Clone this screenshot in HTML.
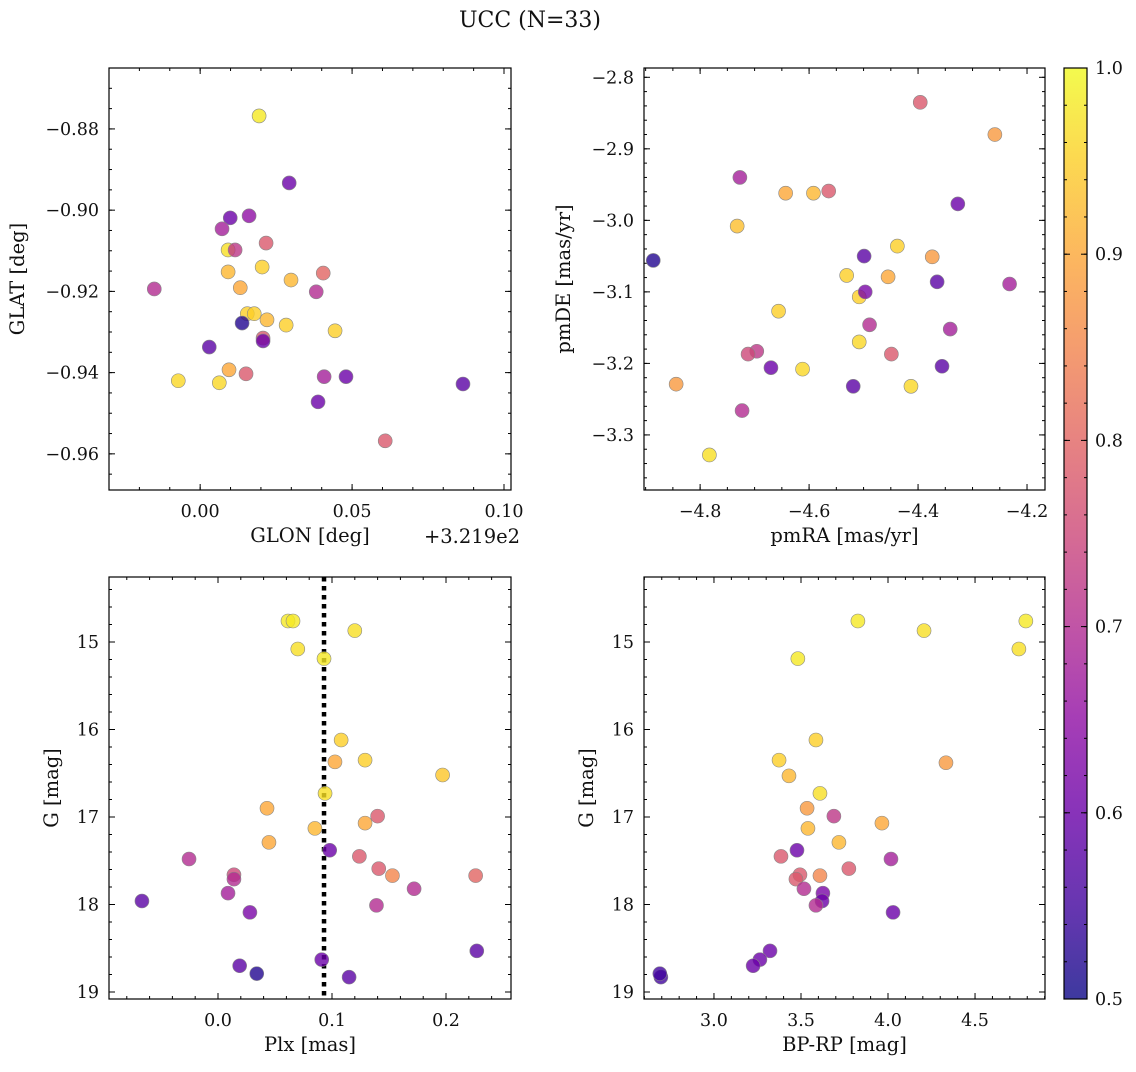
<!DOCTYPE html>
<html><head><meta charset="utf-8"><style>
body{margin:0;background:#fff;}
svg text{font-family:"DejaVu Serif","Liberation Serif",serif;fill:#111;}
</style></head><body>
<svg id="fig" width="1136" height="1067" viewBox="0 0 1136 1067" xmlns="http://www.w3.org/2000/svg">
<defs>
<linearGradient id="cbgrad" x1="0" y1="1" x2="0" y2="0">
<stop offset="0" stop-color="#0d0887"/><stop offset="0.1" stop-color="#41049d"/><stop offset="0.2" stop-color="#6a00a8"/><stop offset="0.3" stop-color="#8f0da4"/><stop offset="0.4" stop-color="#b12a90"/><stop offset="0.5" stop-color="#cc4778"/><stop offset="0.6" stop-color="#e16462"/><stop offset="0.7" stop-color="#f2844b"/><stop offset="0.8" stop-color="#fca636"/><stop offset="0.9" stop-color="#fcce25"/><stop offset="1" stop-color="#f0f921"/>
</linearGradient>
</defs>
<text x="530" y="27" font-size="22" text-anchor="middle">UCC (N=33)</text>
</svg>
<script>
// ---- data ----
const glon=[.0194,.0293,.0099,.0161,.0072,.0092,.0115,.0217,.0204,.0092,.0405,.0299,.0132,-.0151,.0382,.0155,.0178,.0220,.0138,.0283,.0444,.0207,.0207,.0030,.0095,.0151,.0408,.048,-.0072,.0063,.0865,.0388,.0609];
const glat=[-.8768,-.8933,-.9019,-.9014,-.9046,-.9098,-.9098,-.9081,-.914,-.9152,-.9155,-.9172,-.9191,-.9194,-.9201,-.9255,-.9255,-.927,-.9278,-.9283,-.9297,-.9315,-.9322,-.9337,-.9393,-.9403,-.941,-.941,-.942,-.9425,-.9428,-.9472,-.9568];
const probTL=[.98,.6,.6,.65,.68,.97,.72,.78,.95,.92,.8,.92,.9,.7,.7,.95,.95,.92,.52,.95,.95,.78,.6,.58,.9,.78,.68,.6,.96,.96,.58,.6,.78];
const pmra=[-4.396,-4.259,-4.727,-4.643,-4.592,-4.564,-4.327,-4.732,-4.438,-4.886,-4.499,-4.374,-4.531,-4.455,-4.232,-4.365,-4.508,-4.497,-4.656,-4.489,-4.341,-4.508,-4.696,-4.712,-4.449,-4.356,-4.670,-4.612,-4.844,-4.519,-4.413,-4.723,-4.783];
const pmde=[-2.835,-2.880,-2.940,-2.962,-2.962,-2.959,-2.977,-3.008,-3.036,-3.056,-3.050,-3.051,-3.077,-3.079,-3.089,-3.086,-3.107,-3.100,-3.127,-3.146,-3.152,-3.170,-3.183,-3.187,-3.187,-3.204,-3.206,-3.208,-3.229,-3.232,-3.232,-3.266,-3.328];
const probTR=[.78,.88,.68,.9,.92,.78,.6,.93,.95,.52,.58,.88,.95,.9,.68,.58,.95,.62,.95,.7,.68,.96,.72,.75,.78,.58,.6,.96,.88,.58,.96,.7,.97];
const plx=[.0614,.0658,.120,.070,.093,.108,.1026,.129,.197,.0939,.043,.140,.129,.085,.0447,.098,.124,-.0254,.141,.153,.014,.014,.226,.172,.0088,-.0667,.139,.028,.227,.091,.019,.034,.115];
const gBL=[14.76,14.76,14.87,15.08,15.19,16.12,16.37,16.35,16.52,16.73,16.90,16.99,17.07,17.13,17.29,17.38,17.45,17.48,17.59,17.67,17.66,17.71,17.67,17.82,17.87,17.96,18.01,18.09,18.53,18.63,18.70,18.79,18.83];
const probBL=[.98,.98,.97,.97,.98,.95,.9,.95,.94,.97,.9,.78,.9,.92,.9,.6,.78,.7,.78,.85,.75,.7,.8,.7,.68,.58,.7,.62,.58,.6,.58,.52,.58];
const bprp=[3.827,4.792,4.207,4.752,3.482,3.586,4.333,3.374,3.431,3.609,3.535,3.689,3.965,3.540,3.718,3.477,3.385,4.017,3.775,3.609,3.494,3.471,3.517,3.626,3.621,3.586,4.029,3.322,3.264,3.225,2.695,2.689];
const gBR=[14.76,14.76,14.87,15.08,15.19,16.12,16.38,16.35,16.53,16.73,16.90,16.99,17.07,17.13,17.29,17.38,17.45,17.48,17.59,17.67,17.66,17.71,17.82,17.87,17.96,18.01,18.09,18.53,18.63,18.70,18.83,18.79];
const probBR=[.98,.98,.97,.97,.98,.95,.88,.95,.92,.97,.88,.72,.9,.92,.92,.6,.78,.68,.78,.85,.78,.78,.7,.62,.6,.7,.6,.6,.6,.6,.55,.55];
const plxLine=[0.093];
const cbTicks=[0.5,0.6,0.7,0.8,0.9,1.0];

const NS="http://www.w3.org/2000/svg";
const svg=document.getElementById('fig');
function mk(tag,attrs,parent){const e=document.createElementNS(NS,tag);for(const k in attrs)e.setAttribute(k,attrs[k]);(parent||svg).appendChild(e);return e;}
const stops=[[0,[13,8,135]],[.1,[65,4,157]],[.2,[106,0,168]],[.3,[143,13,164]],[.4,[177,42,144]],[.5,[204,71,120]],[.6,[225,100,98]],[.7,[242,132,75]],[.8,[252,166,54]],[.9,[252,206,37]],[1,[240,249,33]]];
function plasma(v){let t=Math.max(0,Math.min(1,(v-0.5)/0.5));for(let i=1;i<stops.length;i++){if(t<=stops[i][0]){const a=stops[i-1],b=stops[i];const f=(t-a[0])/(b[0]-a[0]);const c=a[1].map((x,j)=>Math.round(x+(b[1][j]-x)*f));return `rgb(${c[0]},${c[1]},${c[2]})`;}}return 'rgb(240,249,33)';}
function fmt(v,d){let s=v.toFixed(d);if(Math.abs(v)<1e-9)s=(0).toFixed(d);return s.replace('-','\u2212');}
const FS=17.5;
const LS=19.5;

function panel(o){
  const {x0,x1,y0,y1,xmin,xmax,ymin,ymax,name}=o;
  const X=v=>x0+(v-xmin)/(xmax-xmin)*(x1-x0);
  const Y=v=>o.invert? y0+(v-ymin)/(ymax-ymin)*(y1-y0) : y1-(v-ymin)/(ymax-ymin)*(y1-y0);
  const g=mk('g',{});
  
  
  const tk=(vals,isX,len,minor)=>{vals.forEach(v=>{
    if(isX){const p=X(v);if(p<x0-0.5||p>x1+0.5)return;
      mk('line',{x1:p,x2:p,y1:y1,y2:y1-len,stroke:'#000','stroke-width':1},g);
      mk('line',{x1:p,x2:p,y1:y0,y2:y0+len,stroke:'#000','stroke-width':1},g);
      if(!minor){const t=mk('text',{x:p,y:y1+27,'font-size':FS,'text-anchor':'middle'},g);t.textContent=fmt(v,o.xd);}
    }else{const p=Y(v);if(p<y0-0.5||p>y1+0.5)return;
      mk('line',{x1:x0,x2:x0+len,y1:p,y2:p,stroke:'#000','stroke-width':1},g);
      mk('line',{x1:x1,x2:x1-len,y1:p,y2:p,stroke:'#000','stroke-width':1},g);
      if(!minor){const t=mk('text',{x:x0-10,y:p+6,'font-size':FS,'text-anchor':'end'},g);t.textContent=fmt(v,o.yd);}
    }});};
  const range=(a,b,s)=>{const r=[];for(let v=Math.ceil(a/s-1e-6)*s;v<=b+1e-9;v+=s)r.push(Math.round(v/s)*s);return r;};
  tk(range(xmin,xmax,o.xmin_step),true,3,true);
  tk(range(xmin,xmax,o.xmaj),true,6,false);
  tk(range(ymin,ymax,o.ymin_step),false,3,true);
  tk(range(ymin,ymax,o.ymaj),false,6,false);
  mk('rect',{x:x0,y:y0,width:x1-x0,height:y1-y0,fill:'none',stroke:'#000','stroke-width':1.2},g);
  if(o.vline){o.vline.forEach(v=>{const l=mk('line',{x1:X(v),x2:X(v),y1:y0,y2:y1,stroke:'#000','stroke-width':4.5,'stroke-dasharray':'4.5 4.5'},g);});}
  const xs=o.xs,ys=o.ys,ps=o.ps;
  const n=Math.min(xs.length,ys.length,ps.length);
  for(let i=0;i<n;i++){
    const c=mk('circle',{cx:X(xs[i]),cy:Y(ys[i]),r:7,fill:plasma(ps[i]),'fill-opacity':0.8,stroke:'#888','stroke-width':0.6},g);
    
    
  }
  const xl=mk('text',{x:(x0+x1)/2,y:y1+52,'font-size':LS,'text-anchor':'middle'},g);xl.textContent=o.xlabel;
  
  const yl=mk('text',{x:o.ylx,y:(y0+y1)/2,'font-size':LS,'text-anchor':'middle',transform:`rotate(-90 ${o.ylx} ${(y0+y1)/2})`},g);yl.textContent=o.ylabel;
  
  return g;
}
panel({name:'glon-glat-panel',x0:109,x1:511,y0:68,y1:490,xmin:-0.030,xmax:0.1023,ymin:-0.9689,ymax:-0.865,xmaj:0.05,xmin_step:0.01,ymaj:0.02,ymin_step:0.005,xd:2,yd:2,xs:glon,ys:glat,ps:probTL,xlabel:'GLON [deg]',ylabel:'GLAT [deg]',ylx:24});
const off=mk('text',{x:472,y:543,'font-size':LS,'text-anchor':'middle'});off.textContent='+3.219e2';

panel({name:'pm-panel',x0:644,x1:1045,y0:68,y1:490,xmin:-4.903,xmax:-4.167,ymin:-3.377,ymax:-2.787,xmaj:0.2,xmin_step:0.05,ymaj:0.1,ymin_step:0.02,xd:1,yd:1,xs:pmra,ys:pmde,ps:probTR,xlabel:'pmRA [mas/yr]',ylabel:'pmDE [mas/yr]',ylx:570});
panel({name:'plx-g-panel',invert:true,x0:109,x1:511,y0:577,y1:999,xmin:-0.0956,xmax:0.257,ymin:14.257,ymax:19.08,xmaj:0.1,xmin_step:0.02,ymaj:1,ymin_step:0.2,xd:1,yd:0,xs:plx,ys:gBL,ps:probBL,vline:plxLine,xlabel:'Plx [mas]',ylabel:'G [mag]',ylx:58});
panel({name:'cmd-panel',invert:true,x0:644,x1:1045,y0:577,y1:999,xmin:2.598,xmax:4.902,ymin:14.257,ymax:19.08,xmaj:0.5,xmin_step:0.1,ymaj:1,ymin_step:0.2,xd:1,yd:0,xs:bprp,ys:gBR,ps:probBR,xlabel:'BP-RP [mag]',ylabel:'G [mag]',ylx:593});
// colorbar
const cb=mk('g',{});


mk('rect',{x:1064,y:68,width:23,height:931,fill:'url(#cbgrad)','fill-opacity':0.8},cb);
mk('rect',{x:1064,y:68,width:23,height:931,fill:'none',stroke:'#000','stroke-width':1.2},cb);
const CY=v=>999-(v-0.5)/0.5*931;
for(let v=0.5;v<=1.0001;v+=0.02){const p=CY(v);mk('line',{x1:1087,x2:1084,y1:p,y2:p,stroke:'#000'},cb);mk('line',{x1:1064,x2:1067,y1:p,y2:p,stroke:'#000'},cb);}
cbTicks.forEach(v=>{const p=CY(v);mk('line',{x1:1087,x2:1081,y1:p,y2:p,stroke:'#000'},cb);mk('line',{x1:1064,x2:1070,y1:p,y2:p,stroke:'#000'},cb);
  const t=mk('text',{x:1095,y:p+6,'font-size':FS},cb);t.textContent=v.toFixed(1);
  });
</script>
</body></html>
